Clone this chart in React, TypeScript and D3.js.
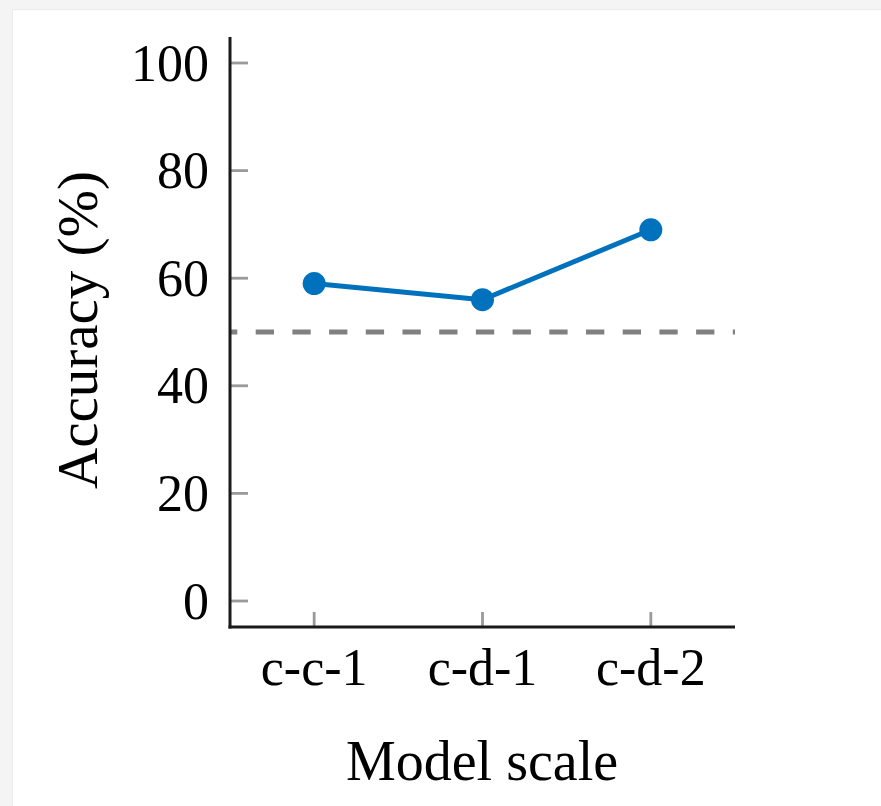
import React from "react";
import * as d3 from "d3";

const categories: string[] = ["c-c-1", "c-d-1", "c-d-2"];
const accuracy: number[] = [59, 56, 69];
const baseline: number = 50;
const yTicks: number[] = [0, 20, 40, 60, 80, 100];
const yTitle = "Accuracy (%)";
const xTitle = "Model scale";

const W = 881;
const H = 806;

export default function App() {
  const axisLeft = 230;
  const axisRight = 735;
  const axisBottom = 627;
  const axisTop = 37;

  const x = d3.scalePoint<string>().domain(categories).range([axisLeft, axisRight]).padding(0.5);
  const y = d3.scaleLinear().domain([0, 100]).range([601, 63]);

  const line = d3
    .line<number>()
    .x((_, i) => x(categories[i]) as number)
    .y((d) => y(d));

  const font = "'Liberation Serif', 'Times New Roman', serif";
  const blue = "#0072BD";
  const dashStart = axisLeft - 11;

  return (
    <svg
      width={W}
      height={H}
      style={{ position: "absolute", left: 0, top: 0, display: "block" }}
      xmlns="http://www.w3.org/2000/svg"
    >
      <rect x={0} y={0} width={W} height={H} fill="#f4f4f4" />
      <rect x={12} y={9} width={W} height={H} fill="#ebebeb" />
      <rect x={13} y={10} width={W} height={H} fill="#ffffff" />

      <defs>
        <clipPath id="plotclip">
          <rect x={axisLeft} y={axisTop} width={axisRight - axisLeft} height={axisBottom - axisTop} />
        </clipPath>
      </defs>
      <line
        x1={dashStart}
        x2={axisRight}
        y1={y(baseline)}
        y2={y(baseline)}
        stroke="#808080"
        strokeWidth={5}
        strokeDasharray="18.3 18.4"
        clipPath="url(#plotclip)"
      />

      {yTicks.map((t) => (
        <line key={"yt" + t} x1={axisLeft} x2={axisLeft + 18} y1={y(t)} y2={y(t)} stroke="#9a9a9a" strokeWidth={2.8} />
      ))}
      {categories.map((c) => (
        <line key={"xt" + c} x1={x(c)} x2={x(c)} y1={axisBottom} y2={axisBottom - 15} stroke="#9a9a9a" strokeWidth={2.8} />
      ))}

      <line x1={axisLeft} x2={axisLeft} y1={axisTop} y2={axisBottom + 1.5} stroke="#1a1a1a" strokeWidth={3} />
      <line x1={axisLeft - 1.5} x2={axisRight} y1={axisBottom} y2={axisBottom} stroke="#1a1a1a" strokeWidth={3} />

      <path d={line(accuracy) || ""} fill="none" stroke={blue} strokeWidth={5} strokeLinejoin="round" />
      {accuracy.map((v, i) => (
        <circle key={"pt" + i} cx={x(categories[i])} cy={y(v)} r={11.5} fill={blue} />
      ))}

      {yTicks.map((t) => (
        <text
          key={"yl" + t}
          x={209}
          y={y(t)}
          dy="0.34em"
          textAnchor="end"
          fontFamily={font}
          fontSize={52}
          fill="#000"
        >
          {t}
        </text>
      ))}

      {categories.map((c) => (
        <text key={"xl" + c} x={x(c)} y={685} textAnchor="middle" fontFamily={font} fontSize={52} fill="#000">
          {c}
        </text>
      ))}

      <text x={482} y={780} textAnchor="middle" fontFamily={font} fontSize={56} fill="#000">
        {xTitle}
      </text>
      <text
        transform={`translate(97, 330) rotate(-90)`}
        textAnchor="middle"
        fontFamily={font}
        fontSize={57}
        fill="#000"
      >
        {yTitle}
      </text>
    </svg>
  );
}
